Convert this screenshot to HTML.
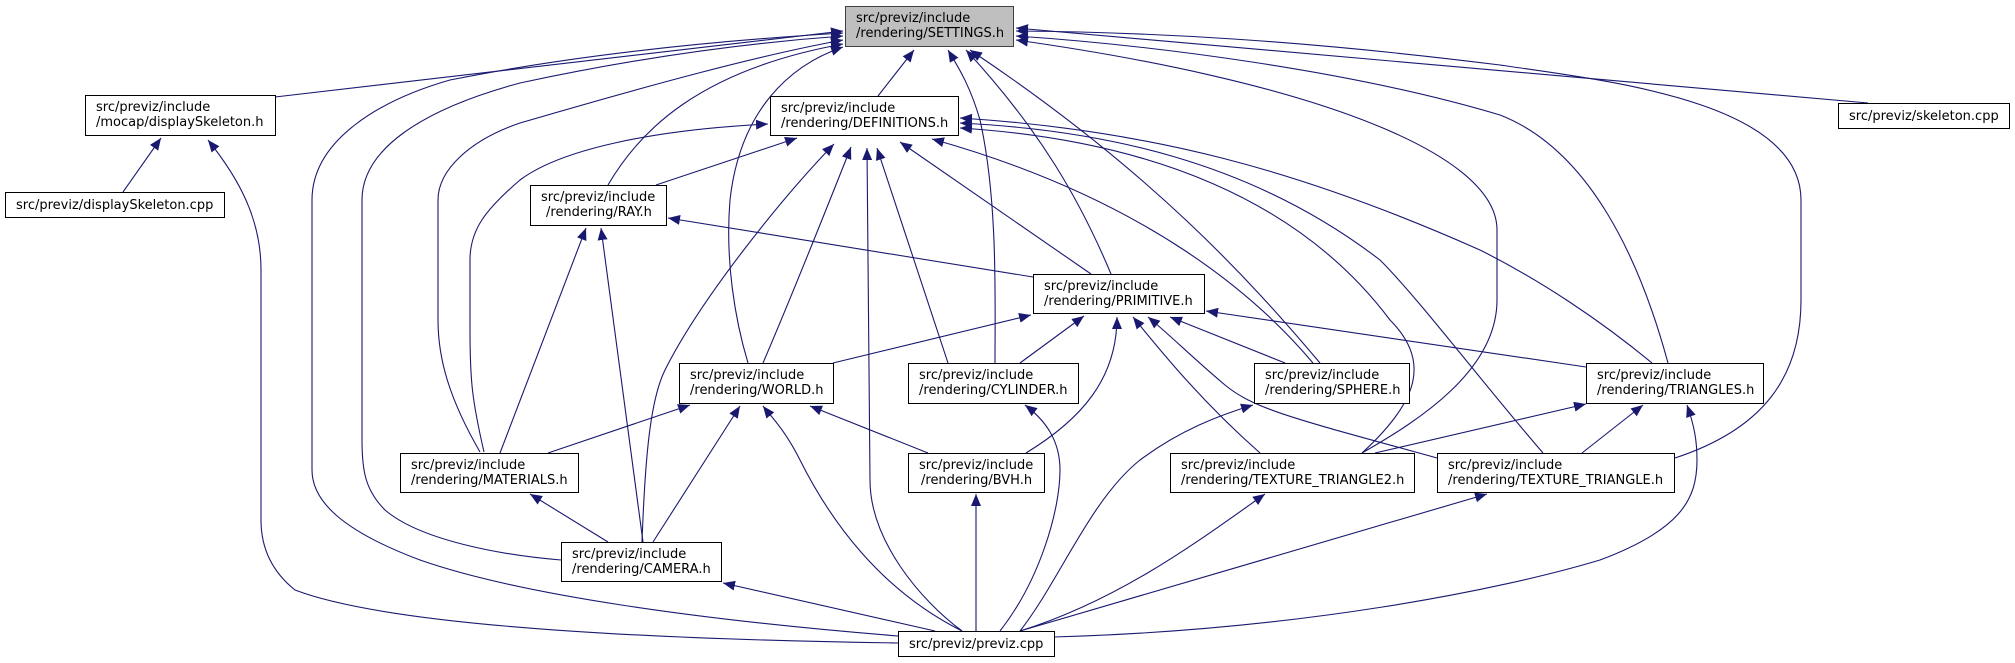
<!DOCTYPE html>
<html><head><meta charset="utf-8">
<style>
html,body{margin:0;padding:0;background:#fff;}
svg{display:block;}
text{font-family:"DejaVu Sans","Liberation Sans",sans-serif;font-size:13px;fill:#000;}
.n{fill:#fff;stroke:#000;stroke-width:1;}
.g{fill:#bfbfbf;stroke:#404040;stroke-width:1;}
.e{fill:none;stroke:#191970;stroke-width:1.1;marker-end:url(#ah);}
.p{fill:none;stroke:#191970;stroke-width:1.1;}
</style></head><body>
<svg width="2015" height="663" viewBox="0 0 2015 663" xmlns="http://www.w3.org/2000/svg">
<defs>
<marker id="ah" markerUnits="userSpaceOnUse" markerWidth="14" markerHeight="10" refX="12" refY="5" orient="auto">
<path d="M0,0 L12,5 L0,10 z" fill="#191970"/>
</marker>
</defs>
<!-- edges -->
<path class="e" d="M275,97 L843,31"/>
<path class="e" d="M898,636 C700,620 520,595 420,560 C340,530 312,500 312,470 L312,200 C312,140 380,100 450,80 C600,50 760,38 843,33"/>
<path class="e" d="M561,560 C500,555 420,540 385,510 C365,490 362,470 362,440 L362,200 C362,150 420,110 520,83 C650,55 760,42 843,36"/>
<path class="e" d="M898,643 C700,640 400,630 295,590 C270,570 261,545 261,520 L261,270 C261,220 240,180 208,140"/>
<path class="e" d="M480,452 C450,400 438,360 438,320 L438,200 C438,170 470,140 520,123 C650,85 760,55 843,40"/>
<path class="e" d="M484,452 C472,400 470,380 470,330 L470,260 C470,230 485,210 520,180 C560,150 650,130 768,124"/>
<path class="e" d="M608,185 C640,130 700,70 843,44"/>
<path class="e" d="M748,363 C735,320 725,260 730,200 C740,110 790,65 843,47"/>
<path class="e" d="M878,96 L914,50"/>
<path class="e" d="M995,363 C995,300 998,200 980,120 C970,85 957,65 948,50"/>
<path class="e" d="M1111,274 C1080,200 1040,130 966,50"/>
<path class="e" d="M1320,363 C1250,280 1150,170 970,50"/>
<path class="e" d="M1668,363 C1640,260 1590,150 1500,115 C1350,70 1150,45 1016,36"/>
<path class="e" d="M1362,453 C1420,420 1497,370 1497,300 L1497,230 C1497,150 1300,80 1016,40"/>
<path class="e" d="M1675,458 C1760,430 1801,380 1801,300 L1801,200 C1801,100 1600,80 1500,65 C1300,40 1150,32 1016,31"/>
<path class="e" d="M1868,103 L1016,28"/>
<path class="e" d="M656,185 L797,138"/>
<path class="e" d="M763,363 C790,300 830,200 851,147"/>
<path class="e" d="M642,542 C645,460 650,400 665,370 C700,300 780,200 834,144"/>
<path class="e" d="M962,631 C920,600 870,540 870,480 L867,148"/>
<path class="e" d="M948,363 L877,148"/>
<path class="e" d="M1091,274 L900,142"/>
<path class="e" d="M1313,363 C1260,300 1150,200 932,139"/>
<path class="e" d="M1652,363 C1600,320 1540,280 1480,250 C1300,170 1150,130 960,118"/>
<path class="e" d="M1543,453 C1480,380 1420,300 1380,260 C1250,160 1100,130 960,123"/>
<path class="e" d="M1362,453 C1420,400 1430,360 1390,320 C1300,200 1150,140 960,128"/>
<path class="e" d="M1033,277 L668,218"/>
<path class="e" d="M500,453 L586,228"/>
<path class="e" d="M643,542 L601,228"/>
<path class="e" d="M833,363 L1031,315"/>
<path class="e" d="M1020,363 L1084,316"/>
<path class="e" d="M1026,453 C1080,420 1117,380 1117,317"/>
<path class="e" d="M1260,453 C1200,400 1160,350 1133,317"/>
<path class="e" d="M1437,458 C1300,420 1255,410 1225,385 C1195,360 1170,335 1148,317"/>
<path class="e" d="M1285,363 L1170,317"/>
<path class="e" d="M1586,367 L1206,311"/>
<path class="e" d="M548,453 L690,405"/>
<path class="e" d="M653,542 L740,406"/>
<path class="e" d="M962,631 C880,590 830,520 800,460 C785,430 770,415 763,406"/>
<path class="e" d="M928,453 L810,406"/>
<path class="e" d="M608,542 L530,494"/>
<path class="e" d="M935,631 L723,583"/>
<path class="e" d="M1000,631 C1040,580 1060,510 1060,470 C1060,440 1045,420 1025,405"/>
<path class="e" d="M976,631 L976,494"/>
<path class="e" d="M1020,631 C1060,580 1090,500 1140,460 C1180,430 1220,415 1253,405"/>
<path class="e" d="M1020,631 C1120,600 1200,540 1265,494"/>
<path class="e" d="M1020,631 L1487,494"/>
<path class="e" d="M1054,637 C1300,630 1500,590 1600,560 C1680,530 1697,500 1697,460 C1697,440 1694,425 1687,405"/>
<path class="e" d="M1375,453 L1586,404"/>
<path class="e" d="M1582,453 L1643,405"/>
<path class="e" d="M123,192 L161,138"/>
<!-- nodes -->
<rect class="g" x="845.5" y="6.5" width="168" height="40"/>
<text x="856" y="22">src/previz/include</text><text x="856" y="37">/rendering/SETTINGS.h</text>

<rect class="n" x="85.5" y="95.5" width="190" height="40"/>
<text x="96" y="111">src/previz/include</text><text x="96" y="126">/mocap/displaySkeleton.h</text>

<rect class="n" x="5.5" y="192.5" width="219" height="25"/>
<text x="16" y="209">src/previz/displaySkeleton.cpp</text>

<rect class="n" x="770.5" y="96.5" width="188" height="39"/>
<text x="781" y="112">src/previz/include</text><text x="781" y="127">/rendering/DEFINITIONS.h</text>

<rect class="n" x="1838.5" y="103.5" width="171" height="25"/>
<text x="1849" y="120">src/previz/skeleton.cpp</text>

<rect class="n" x="530.5" y="185.5" width="136" height="40"/>
<text x="541" y="201">src/previz/include</text><text x="546" y="216">/rendering/RAY.h</text>

<rect class="n" x="1033.5" y="274.5" width="171" height="39"/>
<text x="1044" y="290">src/previz/include</text><text x="1044" y="305">/rendering/PRIMITIVE.h</text>

<rect class="n" x="679.5" y="363.5" width="154" height="40"/>
<text x="690" y="379">src/previz/include</text><text x="690" y="394">/rendering/WORLD.h</text>

<rect class="n" x="908.5" y="363.5" width="170" height="40"/>
<text x="919" y="379">src/previz/include</text><text x="919" y="394">/rendering/CYLINDER.h</text>

<rect class="n" x="1254.5" y="363.5" width="155" height="40"/>
<text x="1265" y="379">src/previz/include</text><text x="1265" y="394">/rendering/SPHERE.h</text>

<rect class="n" x="1586.5" y="363.5" width="177" height="40"/>
<text x="1597" y="379">src/previz/include</text><text x="1597" y="394">/rendering/TRIANGLES.h</text>

<rect class="n" x="400.5" y="453.5" width="178" height="39"/>
<text x="411" y="469">src/previz/include</text><text x="411" y="484">/rendering/MATERIALS.h</text>

<rect class="n" x="908.5" y="453.5" width="136" height="39"/>
<text x="919" y="469">src/previz/include</text><text x="921" y="484">/rendering/BVH.h</text>

<rect class="n" x="1170.5" y="453.5" width="244" height="39"/>
<text x="1181" y="469">src/previz/include</text><text x="1181" y="484">/rendering/TEXTURE_TRIANGLE2.h</text>

<rect class="n" x="1437.5" y="453.5" width="237" height="39"/>
<text x="1448" y="469">src/previz/include</text><text x="1448" y="484">/rendering/TEXTURE_TRIANGLE.h</text>

<rect class="n" x="561.5" y="542.5" width="160" height="39"/>
<text x="572" y="558">src/previz/include</text><text x="572" y="573">/rendering/CAMERA.h</text>

<rect class="n" x="898.5" y="631.5" width="156" height="25"/>
<text x="909" y="648">src/previz/previz.cpp</text>
</svg>
</body></html>
